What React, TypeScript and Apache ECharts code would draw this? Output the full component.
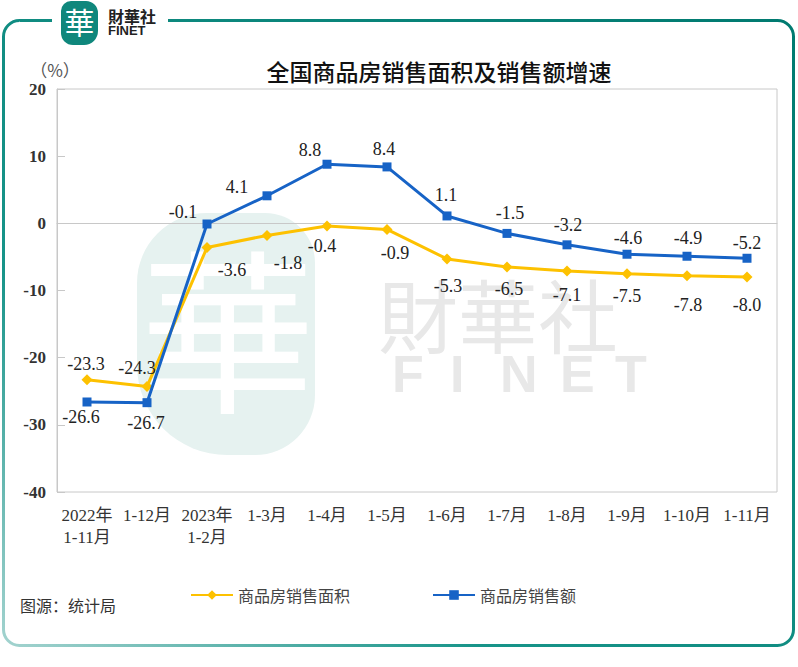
import React, { useEffect, useRef } from "react";
import * as echarts from "echarts";

const categories = [
  "2022年\n1-11月", "1-12月", "2023年\n1-2月", "1-3月", "1-4月", "1-5月",
  "1-6月", "1-7月", "1-8月", "1-9月", "1-10月", "1-11月",
];
const areaGrowth = [-23.3, -24.3, -3.6, -1.8, -0.4, -0.9, -5.3, -6.5, -7.1, -7.5, -7.8, -8.0];
const salesGrowth = [-26.6, -26.7, -0.1, 4.1, 8.8, 8.4, 1.1, -1.5, -3.2, -4.6, -4.9, -5.2];
const seriesNames = ["商品房销售面积", "商品房销售额"];

// label offsets (px) relative to each point
const areaLabelOffsets = [
  [-1, -16], [-10, -19], [25, 22], [21, 28], [-5, 20], [8, 24],
  [1, 27], [2, 22], [0, 24], [0, 22], [1, 29], [0, 28],
];
const salesLabelOffsets = [
  [-6, 15], [-1, 20], [-24, -12], [-30, -9], [-17, -14], [-3, -18],
  [-1, -21], [3, -20], [1, -20], [1, -16], [1, -18], [0, -15],
];

const SERIF = "'Liberation Serif', 'Times New Roman', 'Noto Sans CJK SC', serif";
const SANS = "'Noto Sans CJK SC', 'Noto Sans', sans-serif";

export default function App() {
  const ref = useRef<HTMLDivElement>(null);
  useEffect(() => {
    if (!ref.current) return;
    const chart = echarts.init(ref.current, null, { renderer: "svg" });
    const labelStyle = { fontFamily: SERIF, fontSize: 18, color: "#222" };
    const mk = (vals: number[], offs: number[][]) =>
      vals.map((v, i) => ({
        value: v,
        label: {
          show: true, position: "inside", offset: offs[i], ...labelStyle,
          formatter: (p: any) => Number(p.value).toFixed(1),
        },
      }));
    const finetLetters = ["F", "I", "N", "E", "T"];
    const finetX = [392, 450, 500, 560, 615];
    chart.setOption({
      animation: false,
      backgroundColor: "#fff",
      grid: {
        left: 57, top: 89, right: 21, bottom: 175,
        show: true, borderColor: "#c8c8c8", borderWidth: 1,
      },
      legend: {
        left: 185, top: 582, itemGap: 82, itemWidth: 42, itemHeight: 12,
        textStyle: { fontFamily: SANS, fontSize: 16, color: "#444" },
        data: seriesNames,
      },
      xAxis: {
        type: "category",
        data: categories,
        boundaryGap: true,
        axisLine: { lineStyle: { color: "#c8c8c8", width: 1 } },
        axisTick: { inside: true, length: 8, lineStyle: { color: "#c8c8c8" } },
        axisLabel: {
          fontFamily: SERIF, fontSize: 17, color: "#333", margin: 12,
          lineHeight: 22, interval: 0,
        },
      },
      yAxis: {
        type: "value",
        min: -40, max: 20, interval: 10,
        splitLine: { show: false },
        axisLine: { show: true, lineStyle: { color: "#c8c8c8", width: 1 } },
        axisTick: { show: true, inside: true, length: 8, lineStyle: { color: "#c8c8c8" } },
        axisLabel: { fontFamily: SERIF, fontSize: 17, fontWeight: "bold", color: "#333", margin: 11 },
      },
      graphic: [
        // frame
        {
          type: "rect", z: 0,
          shape: { x: 3.5, y: 20.5, width: 790, height: 625, r: 16 },
          style: {
            fill: "none", lineWidth: 3,
            stroke: new echarts.graphic.LinearGradient(0, 1, 1, 0, [
              { offset: 0, color: "#a3d3cf" },
              { offset: 0.3, color: "#179489" },
              { offset: 1, color: "#007a70" },
            ]),
          },
        },
        { type: "rect", z: 1, shape: { x: 52, y: 12, width: 116, height: 16 }, style: { fill: "#fff" } },
        // logo
        {
          type: "rect", z: 2,
          shape: { x: 61, y: 1, width: 37, height: 44, r: [10, 12, 14, 12] },
          style: { fill: "#0f877c" },
        },
        {
          type: "text", z: 3, x: 79.5, y: 23,
          style: { text: "華", fill: "#fff", font: `30px ${SERIF}`, align: "center", verticalAlign: "middle" },
        },
        {
          type: "text", z: 3, x: 108, y: 16,
          style: { text: "財華社", fill: "#222", font: `bold 16px ${SANS}`, verticalAlign: "middle" },
        },
        {
          type: "text", z: 3, x: 108, y: 30,
          style: { text: "FINET", fill: "#222", font: `bold 13px 'Liberation Sans', Arial, sans-serif`, verticalAlign: "middle" },
        },
        // watermark
        {
          type: "rect", z: 0,
          shape: { x: 137, y: 213, width: 178, height: 242, r: [70, 50, 60, 90] },
          style: { fill: "#e6f2f0" },
        },
        {
          type: "text", z: 0, x: 228, y: 340,
          style: { text: "華", fill: "#ffffff", font: `175px ${SERIF}`, align: "center", verticalAlign: "middle" },
        },
        {
          type: "text", z: 0, x: 498, y: 312,
          style: { text: "財華社", fill: "#e8e8e8", font: `80px ${SANS}`, align: "center", verticalAlign: "middle" },
        },
        ...finetLetters.map((ch, i) => ({
          type: "text", z: 0, x: finetX[i], y: 374,
          style: { text: ch, fill: "#e8e8e8", font: `bold 52px 'Liberation Sans', Arial, sans-serif`, align: "left", verticalAlign: "middle" },
        })),
        // title
        {
          type: "text", z: 3, x: 439, y: 71,
          style: { text: "全国商品房销售面积及销售额增速", fill: "#111", font: `500 23px ${SANS}`, align: "center", verticalAlign: "middle" },
        },
        // unit
        {
          type: "text", z: 3, x: 55, y: 69,
          style: { text: "（%）", fill: "#555", font: `17px ${SANS}`, align: "center", verticalAlign: "middle" },
        },
        // source
        {
          type: "text", z: 3, x: 20, y: 605,
          style: { text: "图源：统计局", fill: "#333", font: `16px ${SANS}`, verticalAlign: "middle" },
        },
      ],
      series: [
        {
          name: seriesNames[0],
          type: "line",
          data: mk(areaGrowth, areaLabelOffsets),
          symbol: "diamond",
          symbolSize: 11,
          itemStyle: { color: "#fdc100" },
          lineStyle: { color: "#fdc100", width: 3 },
          z: 3,
        },
        {
          name: seriesNames[1],
          type: "line",
          data: mk(salesGrowth, salesLabelOffsets),
          symbol: "rect",
          symbolSize: 9,
          itemStyle: { color: "#1763c6" },
          lineStyle: { color: "#1763c6", width: 3 },
          z: 4,
        },
      ],
    });
    return () => chart.dispose();
  }, []);
  return (
    <div
      ref={ref}
      style={{ position: "fixed", left: 0, top: 0, width: 798, height: 667, background: "#fff" }}
    />
  );
}
